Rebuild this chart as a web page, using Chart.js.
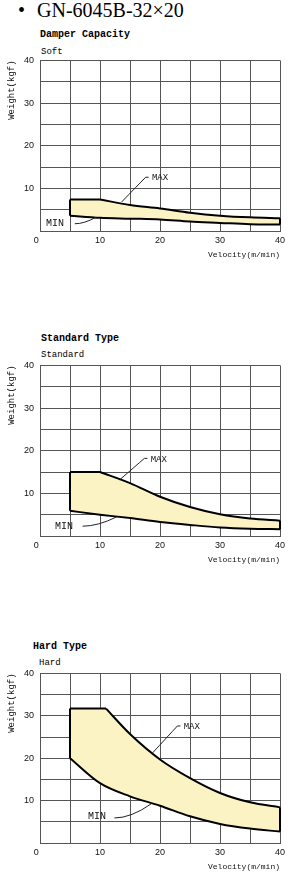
<!DOCTYPE html>
<html><head><meta charset="utf-8">
<script src="https://cdn.jsdelivr.net/npm/chart.js@4/dist/chart.umd.min.js"></script>
<style>
html,body{margin:0;padding:0;background:#fff;}
body{width:296px;height:877px;position:relative;overflow:hidden;}
.t{position:absolute;white-space:nowrap;color:#000;line-height:1;}
.main{font-family:"Liberation Serif","DejaVu Serif",serif;font-size:20px;top:0px;}
.h{font-family:"Liberation Mono","DejaVu Sans Mono",monospace;font-weight:bold;font-size:10px;}
.s{font-family:"Liberation Mono","DejaVu Sans Mono",monospace;font-size:9px;}
canvas{position:absolute;left:0;}
</style></head><body>
<div class="t main" style="left:18px">•</div>
<div class="t main" style="left:37px">GN-6045B-32×20</div>
<div class="t h" style="left:40px;top:30px">Damper Capacity</div>
<div class="t s" style="left:41px;top:48px">Soft</div>
<div class="t h" style="left:41px;top:334px">Standard Type</div>
<div class="t s" style="left:41px;top:351px">Standard</div>
<div class="t h" style="left:33px;top:642px">Hard Type</div>
<div class="t s" style="left:39px;top:659px">Hard</div>
<canvas id="c1" width="296" height="217" style="top:49px;width:296px;height:217px"></canvas>
<canvas id="c2" width="296" height="217" style="top:354px;width:296px;height:217px"></canvas>
<canvas id="c3" width="296" height="216" style="top:662px;width:296px;height:216px"></canvas>
<script>
// ---- data ----
const velocity = [5, 10, 15, 20, 25, 30, 35, 40];
const softMax = [7.4, 7.4, 6.1, 5.3, 4.3, 3.6, 3.2, 3.0];
const softMin = [3.6, 3.1, 2.9, 2.7, 2.2, 1.9, 1.6, 1.5];
const standardMax = [15, 15, 12.4, 9.2, 6.8, 5.1, 4.1, 3.6];
const standardMin = [5.9, 5.0, 4.2, 3.3, 2.6, 2.0, 1.7, 1.6];
const hardMaxVelocity = [5, 11, 15, 20, 25, 30, 35, 40];
const hardMax = [31.7, 31.7, 25.7, 19.7, 15.3, 11.8, 9.6, 8.4];
const hardMin = [20, 14.1, 11.0, 8.8, 6.3, 4.5, 3.4, 2.7];
const xTickLabels = [0, 10, 20, 30, 40];
const yTickLabels = [10, 20, 30, 40];
// annotation anchors (data units): label position, leader start, leader end
const softNotes = [
  {label: 'MAX', at: [20.0, 12.6], from: [17.6, 12.6], to: [13.6, 6.8]},
  {label: 'MIN', at: [2.5, 1.9], from: [5.8, 1.7], to: [9.3, 3.2]}
];
const standardNotes = [
  {label: 'MAX', at: [19.8, 17.9], from: [17.4, 18.2], to: [13.3, 13.2]},
  {label: 'MIN', at: [4.0, 2.3], from: [7.1, 2.3], to: [12.8, 4.5]}
];
const hardNotes = [
  {label: 'MAX', at: [25.3, 27.4], from: [22.9, 27.6], to: [18.6, 21.0]},
  {label: 'MIN', at: [9.5, 6.4], from: [12.4, 5.9], to: [18.6, 9.3]}
];

const MONO = '"Liberation Mono","DejaVu Sans Mono",monospace';
const SANS = '"Liberation Sans","DejaVu Sans",sans-serif';
const FILL = '#fcf3c4';
const GRID = '#555555';

const notesPlugin = {
  id: 'notes',
  afterDatasetsDraw(chart, args, opts) {
    const {ctx} = chart; const xs = chart.scales.x, ys = chart.scales.y;
    ctx.save();
    ctx.strokeStyle = '#222'; ctx.lineWidth = 1; ctx.fillStyle = '#111';
    ctx.textAlign = 'center'; ctx.textBaseline = 'middle';
    (opts.items || []).forEach(n => {
      const tx = xs.getPixelForValue(n.at[0]), ty = ys.getPixelForValue(n.at[1]);
      const fx = xs.getPixelForValue(n.from[0]), fy = ys.getPixelForValue(n.from[1]);
      const ex = xs.getPixelForValue(n.to[0]), ey = ys.getPixelForValue(n.to[1]);
      ctx.font = (n.label === 'MIN' ? '10px ' : '9px ') + MONO;
      ctx.fillText(n.label, tx, ty);
      ctx.beginPath();
      if (n.label === 'MAX') {
        ctx.moveTo(fx + 3, fy);
        ctx.lineTo(fx, fy);
        ctx.quadraticCurveTo(fx - (fx - ex) * 0.35, fy + (ey - fy) * 0.35, ex, ey);
      } else {
        ctx.moveTo(fx, fy);
        ctx.quadraticCurveTo(fx + (ex - fx) * 0.45, fy, ex, ey);
      }
      ctx.stroke();
    });
    ctx.restore();
  }
};

function pts(xs, ys) { return xs.map((v, i) => ({x: v, y: ys[i]})); }

function makeChart(id, xsMax, maxVals, xsMin, minVals, notes, padRight) {
  const maxPts = pts(xsMax, maxVals);
  const minPts = pts(xsMin, minVals);
  const flat = maxPts.slice(0, 2);
  const curve = maxPts.slice(1);
  const line = {borderColor: '#000', borderWidth: 2, pointRadius: 0, clip: 6, tension: 0};
  const datasets = [
    Object.assign({label: 'MIN', data: minPts, fill: false, cubicInterpolationMode: 'monotone'}, line),
    Object.assign({label: 'MAX', data: flat, fill: 0, backgroundColor: FILL}, line),
    Object.assign({label: 'MAX curve', data: curve, fill: 0, backgroundColor: FILL, cubicInterpolationMode: 'monotone'}, line),
    Object.assign({label: 'left', data: [maxPts[0], minPts[0]], fill: false}, line),
    Object.assign({label: 'right', data: [maxPts[maxPts.length - 1], minPts[minPts.length - 1]], fill: false}, line)
  ];
  return new Chart(document.getElementById(id), {
    type: 'line',
    data: {datasets},
    plugins: [notesPlugin],
    options: {
      responsive: false, animation: false, devicePixelRatio: 1,
      layout: {padding: {top: 6, right: padRight, left: 0, bottom: 5}},
      plugins: {
        legend: {display: false}, tooltip: {enabled: false},
        filler: {drawTime: 'beforeDatasetsDraw'},
        notes: {items: notes}
      },
      scales: {
        x: {
          type: 'linear', min: 0, max: 40,
          afterFit(s) { s.height = 30; },
          ticks: {
            stepSize: 5, autoSkip: false, maxRotation: 0, padding: 4, color: '#111',
            font: {family: SANS, size: 9},
            callback: v => xTickLabels.includes(v) ? (v === 0 ? '0   ' : String(v)) : ''
          },
          grid: {color: GRID, lineWidth: 1, drawTicks: false},
          border: {display: true, color: GRID},
          title: {display: true, text: 'Velocity(m/min)', align: 'end', color: '#111',
                  font: {family: MONO, size: 8}, padding: {top: 0, bottom: 1}}
        },
        y: {
          type: 'linear', min: 0, max: 40,
          afterFit(s) { s.width = 40; },
          ticks: {
            stepSize: 5, autoSkip: false, padding: 6, color: '#111',
            font: {family: SANS, size: 9},
            callback: v => yTickLabels.includes(v) ? String(v) : ''
          },
          grid: {color: GRID, lineWidth: 1, drawTicks: false},
          border: {display: true, color: GRID},
          title: {display: true, text: 'Weight(kgf)', align: 'end', color: '#111',
                  font: {family: MONO, size: 9}, padding: {top: 6, bottom: 0}}
        }
      }
    }
  });
}

makeChart('c1', velocity, softMax, velocity, softMin, softNotes, 16);
makeChart('c2', velocity, standardMax, velocity, standardMin, standardNotes, 16);
makeChart('c3', hardMaxVelocity, hardMax, velocity, hardMin, hardNotes, 16);
</script>
</body></html>
